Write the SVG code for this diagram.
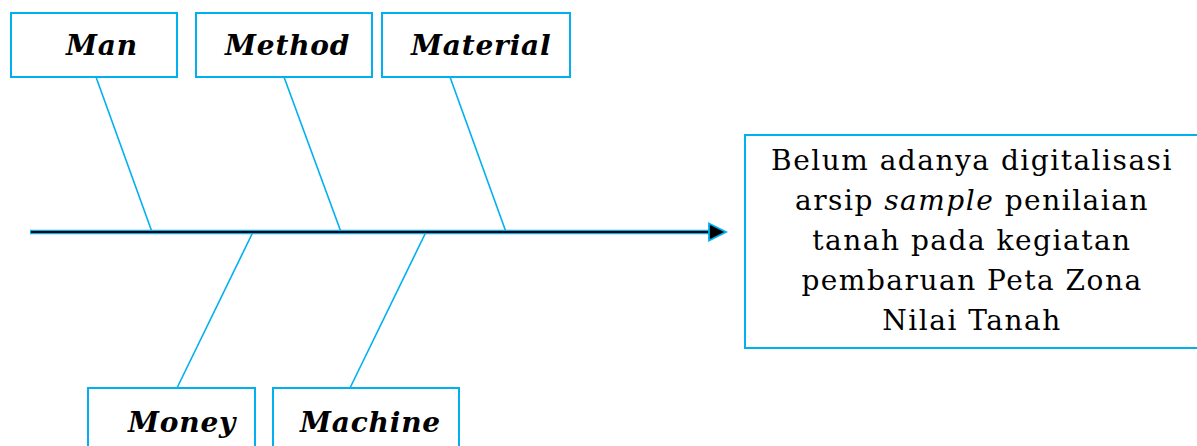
<svg xmlns="http://www.w3.org/2000/svg" width="1197" height="446" viewBox="0 0 1197 446">
<style>
.box{fill:#fff;stroke:#00B0F0;stroke-width:2}
.bone{stroke:#00B0F0;stroke-width:1.6;fill:none}
.lbl{font-family:"DejaVu Serif",serif;font-weight:bold;font-style:italic;font-size:28px;letter-spacing:0.8px;fill:#000}
.eff{font-family:"DejaVu Serif",serif;font-size:28px;letter-spacing:1.5px;fill:#000;text-anchor:middle}
</style>
<rect width="1197" height="446" fill="#fff"/>
<g id="connectors">
<line class="bone" x1="96" y1="77" x2="152" y2="232"/>
<line class="bone" x1="284" y1="77" x2="341" y2="232"/>
<line class="bone" x1="450" y1="77" x2="506" y2="232"/>
<line class="bone" x1="253" y1="232" x2="177" y2="388"/>
<line class="bone" x1="426" y1="232" x2="350" y2="388"/>
<line x1="30" y1="232" x2="712" y2="232" stroke="#00B0F0" stroke-width="4.5"/>
<line x1="31" y1="232" x2="712" y2="232" stroke="#000" stroke-width="2"/>
<polygon points="709,223.5 726,232 709,240.5" fill="#000" stroke="#00B0F0" stroke-width="1.8" stroke-linejoin="miter"/>
</g>
<g id="man"><rect class="box" x="11" y="13" width="166" height="64"/><text class="lbl" x="66" y="55">Man</text></g>
<g id="method"><rect class="box" x="196" y="13" width="176" height="64"/><text class="lbl" x="225" y="55">Method</text></g>
<g id="material"><rect class="box" x="382" y="13" width="188" height="64"/><text class="lbl" x="411" y="55">Material</text></g>
<g id="money"><rect class="box" x="88" y="388" width="167" height="70"/><text class="lbl" x="128" y="432">Money</text></g>
<g id="machine"><rect class="box" x="273" y="388" width="186" height="70"/><text class="lbl" x="300" y="432">Machine</text></g>
<g id="effect"><rect class="box" x="745" y="135" width="460" height="213"/>
<text class="eff" x="972" y="170">Belum adanya digitalisasi</text>
<text class="eff" x="972" y="210">arsip <tspan font-style="italic">sample</tspan> penilaian</text>
<text class="eff" x="972" y="250">tanah pada kegiatan</text>
<text class="eff" x="972" y="290">pembaruan Peta Zona</text>
<text class="eff" x="972" y="330">Nilai Tanah</text>
</g>
</svg>
